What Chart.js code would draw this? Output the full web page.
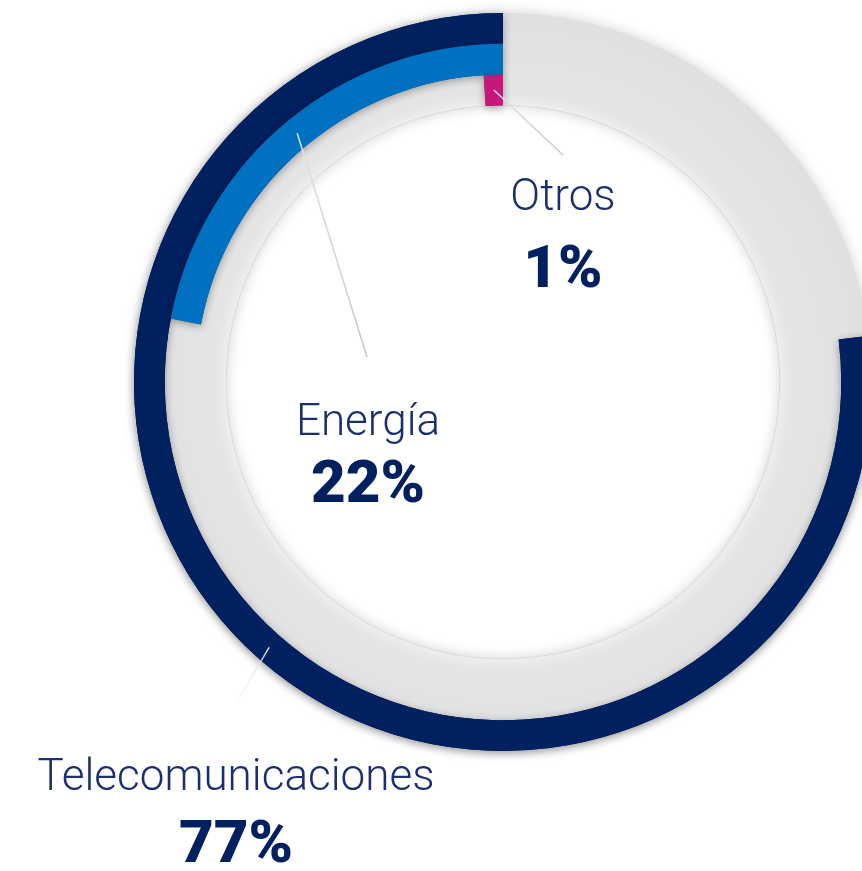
<!DOCTYPE html>
<html>
<head>
<meta charset="utf-8">
<script src="https://cdn.jsdelivr.net/npm/chart.js@4.4.1/dist/chart.umd.min.js"></script>
<style>
html, body { margin: 0; padding: 0; background: #fff; overflow: hidden; }
#wrap { position: absolute; left: 0; top: 0; width: 872px; height: 871px; }
</style>
</head>
<body>
<div id="wrap"><canvas id="sectores"></canvas></div>
<script>
var categories = ['Telecomunicaciones', 'Energía', 'Otros'];
var values = [77, 22, 1];
var colors = ['#00205f', '#0071c1', '#c8177b'];
var restColor = '#e3e3e3';

// where each label goes: centre x, baselines, end of the leader line
var labelPos = [
    { x: 236, y: 790, vy: 862, lx: 237, ly: 702 },
    { x: 368, y: 435, vy: 502, lx: 367, ly: 357 },
    { x: 563, y: 210, vy: 287, lx: 563, ly: 155 }
];

function grayFill(chart) {
    var a = chart.chartArea;
    if (!a) return restColor;
    var cx = (a.left + a.right) / 2, cy = (a.top + a.bottom) / 2;
    var r = Math.min(a.width, a.height) / 2;
    var g = chart.ctx.createRadialGradient(cx, cy, r * 0.75, cx, cy, r);
    g.addColorStop(0, '#eeeeee');
    g.addColorStop(0.12, '#e5e5e5');
    g.addColorStop(1, '#e0e0e0');
    return g;
}

var datasets = categories.map(function (c, i) {
    return {
        label: c,
        data: [100 - values[i], values[i]],
        backgroundColor: function (ctx) {
            return ctx.dataIndex === 0 ? grayFill(ctx.chart) : colors[i];
        },
        borderWidth: 0
    };
});

var decor = {
    id: 'decor',
    beforeDatasetsDraw: function (chart) {
        var outer = chart.getDatasetMeta(0).data[0];
        var inner = chart.getDatasetMeta(2).data[0];
        if (!outer || !inner) return;
        var ctx = chart.ctx;
        ctx.save();
        ctx.beginPath();
        ctx.arc(outer.x, outer.y, outer.outerRadius, 0, Math.PI * 2);
        ctx.arc(outer.x, outer.y, inner.innerRadius, 0, Math.PI * 2, true);
        ctx.fillStyle = restColor;
        ctx.shadowColor = 'rgba(0,0,0,0.18)';
        ctx.shadowBlur = 14;
        ctx.fill();
        ctx.restore();
    },
    afterDatasetsDraw: function (chart) {
        var ctx = chart.ctx;
        var i, el;
        // colored arcs again, this time with their soft shadow
        for (i = 0; i < categories.length; i++) {
            el = chart.getDatasetMeta(i).data[1];
            ctx.save();
            ctx.shadowColor = 'rgba(0,0,0,0.35)';
            ctx.shadowBlur = 9;
            ctx.shadowOffsetY = 2;
            el.draw(ctx);
            ctx.restore();
        }
        // thin edge of the white centre
        var inner = chart.getDatasetMeta(2).data[0];
        ctx.save();
        ctx.beginPath();
        ctx.arc(inner.x, inner.y, inner.innerRadius, 0, Math.PI * 2);
        ctx.strokeStyle = 'rgba(0,0,0,0.07)';
        ctx.lineWidth = 1;
        ctx.stroke();
        ctx.restore();

        // leader lines
        for (i = 0; i < categories.length; i++) {
            el = chart.getDatasetMeta(i).data[1];
            var p = el.getCenterPoint();
            var lp = labelPos[i];
            var g = ctx.createLinearGradient(p.x, p.y, lp.lx, lp.ly);
            g.addColorStop(0, 'rgba(225,225,225,1)');
            g.addColorStop(1, i === 0 ? 'rgba(225,225,225,0.2)' : 'rgba(200,200,200,1)');
            ctx.save();
            ctx.beginPath();
            ctx.moveTo(p.x, p.y);
            ctx.lineTo(lp.lx, lp.ly);
            ctx.strokeStyle = g;
            ctx.lineWidth = 1.5;
            ctx.stroke();
            ctx.restore();
        }

        // labels
        ctx.save();
        ctx.textAlign = 'center';
        ctx.textBaseline = 'alphabetic';
        for (i = 0; i < categories.length; i++) {
            var l = labelPos[i];
            ctx.fillStyle = '#1a2f6e';
            ctx.font = '300 44px Roboto';
            ctx.fillText(categories[i], l.x, l.y);
            ctx.fillStyle = '#00205f';
            ctx.font = '900 60px Roboto';
            ctx.fillText(values[i] + '%', l.x, l.vy);
        }
        ctx.restore();
    }
};

new Chart(document.getElementById('sectores'), {
    type: 'doughnut',
    data: {
        labels: ['', ''],
        datasets: datasets
    },
    options: {
        responsive: true,
        maintainAspectRatio: false,
        animation: false,
        rotation: 0,
        circumference: 360,
        cutout: '75%',
        layout: { padding: { left: 134, top: 13, right: 0, bottom: 120 } },
        plugins: {
            legend: { display: false },
            tooltip: { enabled: false }
        }
    },
    plugins: [decor]
});
</script>
</body>
</html>
